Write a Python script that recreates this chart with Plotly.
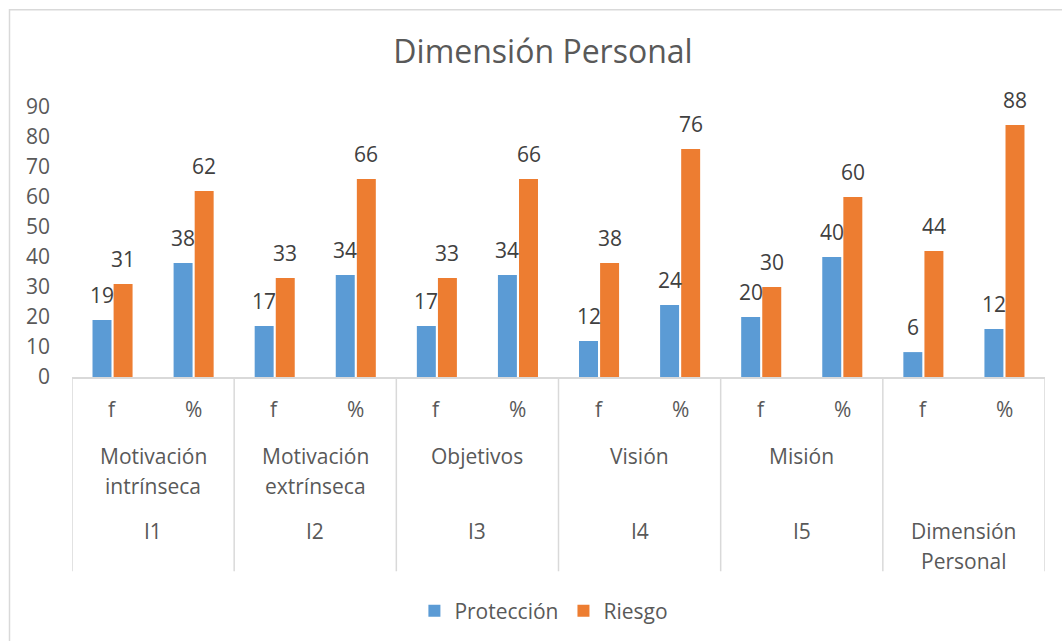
import plotly.graph_objects as go

# ---------------- data ----------------
sub_labels = ["f", "%"] * 6
level2_labels = ["Motivación<br>intrínseca", "Motivación<br>extrínseca", "Objetivos", "Visión", "Misión", ""]
level3_labels = ["I1", "I2", "I3", "I4", "I5", "Dimensión<br>Personal"]

proteccion = [19, 38, 17, 34, 17, 34, 12, 24, 20, 40, 8.3, 16]
riesgo = [31, 62, 33, 66, 33, 66, 38, 76, 30, 60, 42, 84]
proteccion_labels = ["19", "38", "17", "34", "17", "34", "12", "24", "20", "40", "6", "12"]
riesgo_labels = ["31", "62", "33", "66", "33", "66", "38", "76", "30", "60", "44", "88"]

series_names = ["Protección", "Riesgo"]
colors = ["#5B9BD5", "#ED7D31"]

# ---------------- layout constants ----------------
W, H = 1062, 641
L, R, T, B = 72, 17, 107, 263
PH = H - T - B
PW = W - L - R
FONT = "Open Sans"
GREY = "#595959"
LINE = "#D9D9D9"
BARGAP = 0.48
FS = 21


def py2paper(py):
    return (H - B - py) / PH


def px2paper(px):
    return (px - L) / PW


x = list(range(len(sub_labels)))

fig = go.Figure()
for name, vals, col in zip(series_names, [proteccion, riesgo], colors):
    fig.add_trace(go.Bar(x=x, y=vals, name=name, marker=dict(color=col, line=dict(width=0)),
                         hoverinfo="skip"))

annotations = []
# data labels
off = (1 - BARGAP) / 4
for vals, labs, sgn in [(proteccion, proteccion_labels, -1), (riesgo, riesgo_labels, 1)]:
    for i, (v, t) in enumerate(zip(vals, labs)):
        annotations.append(dict(x=i + sgn * off, y=v, xref="x", yref="y", text=t, showarrow=False,
                                yanchor="bottom", yshift=9, font=dict(family=FONT, size=FS, color="#404040")))

# category table text
for i, t in enumerate(sub_labels):
    annotations.append(dict(x=i, y=py2paper(410), xref="x", yref="paper", text=t, showarrow=False,
                            yanchor="middle", font=dict(family=FONT, size=FS, color=GREY)))
LS = 30
for g, (t2, t3) in enumerate(zip(level2_labels, level3_labels)):
    cx = 2 * g + 0.5
    for row_top, txt in [(457, t2), (533, t3)]:
        if not txt:
            continue
        for k, line in enumerate(txt.split("<br>")):
            annotations.append(dict(x=cx, y=py2paper(row_top + k * LS), xref="x", yref="paper", text=line,
                                    showarrow=False, yanchor="middle",
                                    font=dict(family=FONT, size=FS, color=GREY)))

shapes = []
for g in range(7):
    shapes.append(dict(type="line", xref="x", yref="paper", x0=-0.5 + 2 * g, x1=-0.5 + 2 * g,
                       y0=0, y1=py2paper(573), line=dict(color=LINE, width=1.5)))
# chart border
shapes.append(dict(type="rect", xref="paper", yref="paper", x0=px2paper(9.5), x1=px2paper(1080),
                   y0=py2paper(660), y1=py2paper(9.5), line=dict(color=LINE, width=1.5)))

fig.update_layout(
    width=W, height=H,
    margin=dict(l=L, r=R, t=T, b=B),
    paper_bgcolor="white", plot_bgcolor="white",
    barmode="group", bargap=BARGAP, bargroupgap=0.1,
    title=dict(text="Dimensión Personal", x=543 / W, xanchor="center", y=1 - 52 / H, yanchor="middle",
               font=dict(family=FONT, size=32, color=GREY)),
    xaxis=dict(range=[-0.5, len(x) - 0.5], showticklabels=False, showgrid=False, zeroline=False,
               showline=True, linecolor=LINE, linewidth=1.5, ticks="", fixedrange=True),
    yaxis=dict(range=[0, 90], dtick=10, showgrid=False, zeroline=False, showline=False,
               tickfont=dict(family=FONT, size=FS, color=GREY), ticklabelstandoff=21, fixedrange=True),
    legend=dict(orientation="h", x=0.485, xanchor="center", y=py2paper(611), yanchor="middle",
                font=dict(family=FONT, size=FS, color=GREY), itemwidth=30),
    showlegend=True,
    hovermode=False,
    annotations=annotations,
    shapes=shapes,
)

fig.write_html("out.html", config={"displayModeBar": False},
               post_script="document.body.style.margin='0px';document.body.style.overflow='hidden';")
